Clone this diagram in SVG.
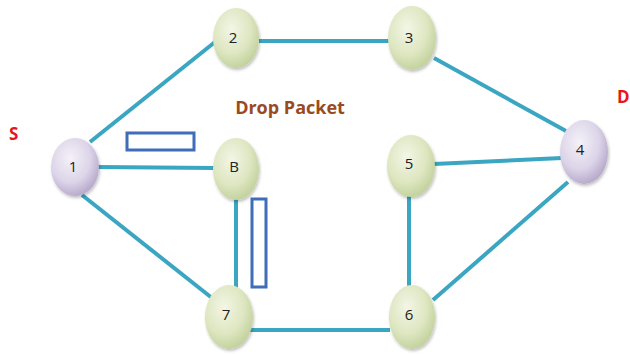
<svg xmlns="http://www.w3.org/2000/svg" width="630" height="354" viewBox="0 0 630 354">
<defs>
<radialGradient id="gGreen" cx="0.4" cy="0.35" r="0.7">
<stop offset="0" stop-color="#F3F6E6"/>
<stop offset="0.6" stop-color="#DDE6C0"/>
<stop offset="1" stop-color="#BFCF98"/>
</radialGradient>
<radialGradient id="gPurple" cx="0.4" cy="0.35" r="0.7">
<stop offset="0" stop-color="#F4F1F8"/>
<stop offset="0.6" stop-color="#DCD4E8"/>
<stop offset="1" stop-color="#B2A4C8"/>
</radialGradient>
<filter id="sh" x="-30%" y="-30%" width="160%" height="160%">
<feDropShadow dx="1" dy="2" stdDeviation="1.5" flood-color="#000" flood-opacity="0.25"/>
</filter>
</defs>
<style>
.edge{stroke:#3BA6C2;stroke-width:4;fill:none}
.green{fill:url(#gGreen);filter:url(#sh)}
.purple{fill:url(#gPurple);filter:url(#sh)}
.lbl{font-family:"Open Sans","Liberation Sans",sans-serif;font-size:15px;fill:#222;text-anchor:middle}
.pkt{fill:#fff;stroke:#3F6DB8;stroke-width:3}
.red{font-family:"Open Sans","Liberation Sans",sans-serif;font-size:17px;font-weight:bold;fill:#E8151B}
</style>
<rect width="630" height="354" fill="#fff"/>
<g id="connectors">
<line class="edge" x1="90" y1="142" x2="215" y2="42"/>
<line class="edge" x1="259" y1="41" x2="390" y2="41"/>
<line class="edge" x1="434" y1="58" x2="566" y2="131"/>
<line class="edge" x1="98" y1="167" x2="214" y2="168"/>
<line class="edge" x1="82" y1="195" x2="212" y2="298"/>
<line class="edge" x1="236" y1="198" x2="236" y2="288"/>
<line class="edge" x1="434" y1="164" x2="562" y2="158"/>
<line class="edge" x1="409" y1="196" x2="409" y2="286"/>
<line class="edge" x1="250" y1="330" x2="390" y2="330"/>
<line class="edge" x1="433" y1="300" x2="568" y2="182"/>
</g>
<g id="packets">
<rect class="pkt" x="127" y="133" width="67" height="17"/>
<rect class="pkt" x="252" y="199" width="14" height="88"/>
</g>
<g id="n1"><ellipse class="purple" cx="75" cy="167" rx="24" ry="29"/><text class="lbl" x="73" y="172">1</text></g>
<g id="n2"><ellipse class="green" cx="236" cy="38" rx="23" ry="30"/><text class="lbl" x="233" y="43">2</text></g>
<g id="n3"><ellipse class="green" cx="412" cy="38" rx="24" ry="32"/><text class="lbl" x="409" y="43">3</text></g>
<g id="n4"><ellipse class="purple" cx="584" cy="152" rx="24" ry="32"/><text class="lbl" x="580" y="155">4</text></g>
<g id="nB"><ellipse class="green" cx="236" cy="169" rx="23" ry="31"/><text class="lbl" x="234" y="172">B</text></g>
<g id="n5"><ellipse class="green" cx="411" cy="166" rx="24" ry="31"/><text class="lbl" x="409" y="169">5</text></g>
<g id="n7"><ellipse class="green" cx="229" cy="317" rx="24" ry="32"/><text class="lbl" x="226" y="320">7</text></g>
<g id="n6"><ellipse class="green" cx="412" cy="317" rx="23" ry="32"/><text class="lbl" x="409" y="320">6</text></g>
<text class="red" x="9" y="140">S</text>
<text class="red" x="617" y="103">D</text>
<text x="290" y="114" font-family="'Open Sans','Liberation Sans',sans-serif" font-size="18" font-weight="bold" fill="#9B4A1E" text-anchor="middle">Drop Packet</text>
</svg>
